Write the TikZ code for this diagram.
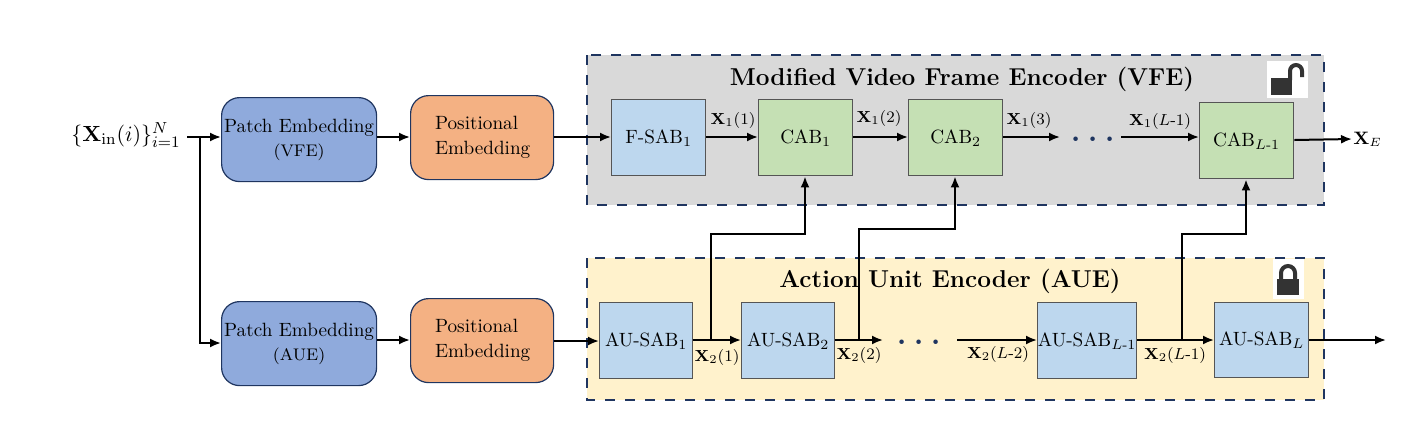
\documentclass[tikz,border=0pt]{standalone}
\usepackage{amsmath}
\usetikzlibrary{arrows.meta,calc}
\definecolor{navyd}{HTML}{1F3560}
\definecolor{panelg}{HTML}{D9D9D9}
\definecolor{panely}{HTML}{FFF2CC}
\definecolor{blueb}{HTML}{8FAADC}
\definecolor{orangeb}{HTML}{F4B183}
\definecolor{lightb}{HTML}{BDD7EE}
\definecolor{greenb}{HTML}{C5E0B4}
\definecolor{edgeg}{HTML}{555555}
\definecolor{lockc}{HTML}{333333}
\tikzset{
 panel/.style={draw=navyd,line width=1.4pt,dash pattern=on 5pt off 5pt},
 roundbox/.style={draw=navyd,line width=0.6pt,rounded corners=9pt,inner sep=0pt,align=center},
 sqbox/.style={draw=edgeg,line width=0.7pt,inner sep=0pt,align=center},
 conn/.style={line width=1pt,-{Latex[length=5.5pt,width=4.5pt]}},
 lbl/.style={font=\fontsize{8}{10}\selectfont,inner sep=0pt},
 dotsl/.style={font=\fontsize{14}{14}\selectfont,inner sep=0pt,text=navyd},
 shackle/.style={draw=lockc,line width=2pt},
}
\newcommand{\bx}[6]{\node[#1,fill=#2,minimum width=#5*0.5pt-#3*0.5pt,minimum height=#6*0.5pt-#4*0.5pt,anchor=north west]}
\newcommand{\threedots}{$\boldsymbol{\cdot}$\hspace{4pt}$\boldsymbol{\cdot}$\hspace{4pt}$\boldsymbol{\cdot}$}
\newcommand{\posemb}{\parbox{47pt}{\fontsize{9.6}{12}\selectfont Positional\\[0.4pt]Embedding}}
\begin{document}
\begin{tikzpicture}[x=0.5pt,y=-0.5pt]
\useasboundingbox (0,0) rectangle (1416,424);
% panels
\fill[panelg] (587,55) rectangle (1324,205);
\draw[panel] (587,55) rectangle (1324,205);
\fill[panely] (587,258) rectangle (1324,400);
\draw[panel] (587,258) rectangle (1324,400);
\node[font=\fontsize{12.2}{14}\selectfont\bfseries,inner sep=0pt] (t1) at (962,79) {Modified Video Frame Encoder (VFE)};
\node[font=\fontsize{12.2}{14}\selectfont\bfseries,inner sep=0pt] (t2) at (950,281) {Action Unit Encoder (AUE)};
% locks
\fill[white] (1267,61) rectangle (1308,98);
\draw[shackle] (1290,80) -- (1290,71) arc[start angle=180,end angle=360,x radius=6,y radius=6] -- (1302,77);
\fill[lockc] (1271,78) rectangle (1292,95);
\fill[white] (1273,259) rectangle (1304,299);
\draw[shackle] (1281,282) -- (1281,273) arc[start angle=180,end angle=360,x radius=7,y radius=7] -- (1295,282);
\fill[lockc] (1277,279) rectangle (1299,295);
% input
\node[font=\fontsize{11}{12}\selectfont,inner sep=0pt,anchor=east] (inp) at (181,135) {$\{\mathbf{X}_{\mathrm{in}}(i)\}_{i=1}^{N}$};
\coordinate (inpe) at (187,137);
\coordinate (split) at (200,137);
% round boxes
\bx{roundbox}{blueb}{221}{97}{376}{181} (pv) at (221,97) {\fontsize{9.6}{14}\selectfont Patch Embedding\\[0pt]\fontsize{8.4}{12}\selectfont (VFE)};
\bx{roundbox}{orangeb}{410}{95}{553}{179} (pev) at (410,95) {\posemb};
\bx{roundbox}{blueb}{221}{301}{376}{385} (pa) at (221,301) {\fontsize{9.6}{14}\selectfont Patch Embedding\\[0pt]\fontsize{8.4}{12}\selectfont (AUE)};
\bx{roundbox}{orangeb}{410}{298}{553}{382} (pea) at (410,298) {\posemb};
% square boxes
\bx{sqbox}{lightb}{611}{99}{705}{175} (fs) at (611,99) {\fontsize{9.6}{12}\selectfont F-SAB$_1$};
\bx{sqbox}{greenb}{758}{99}{852}{175} (c1) at (758,99) {\fontsize{9.6}{12}\selectfont CAB$_1$};
\bx{sqbox}{greenb}{908}{99}{1002}{175} (c2) at (908,99) {\fontsize{9.6}{12}\selectfont CAB$_2$};
\bx{sqbox}{greenb}{1199}{102}{1293}{178} (cl) at (1199,102) {\fontsize{9.6}{12}\selectfont CAB$_{L\text{-}1}$};
\bx{sqbox}{lightb}{599}{302}{692}{378} (a1) at (599,302) {\fontsize{9.6}{12}\selectfont AU-SAB$_1$};
\bx{sqbox}{lightb}{741}{302}{834}{378} (a2) at (741,302) {\fontsize{9.6}{12}\selectfont AU-SAB$_2$};
\bx{sqbox}{lightb}{1037}{302}{1136}{378} (al1) at (1037,302) {\fontsize{9.6}{12}\selectfont AU-SAB$_{L\text{-}1}$};
\bx{sqbox}{lightb}{1214}{302}{1308}{377} (al) at (1214,302) {\fontsize{9.6}{12}\selectfont AU-SAB$_{L}$};
% input connectors
\draw[conn] (inpe) -- (pv.west |- inpe);
\draw[conn] (split) -- (200,343) -- (pa.west |- 0,343);
\draw[conn] (pv.east |- 0,137) -- (pev.west |- 0,137);
\draw[conn] (pa.east |- 0,340) -- (pea.west |- 0,340);
\draw[conn] (pev.east |- 0,137) -- (fs.west |- 0,137);
\draw[conn] (pea.east |- 0,341) -- (a1.west |- 0,341);
% top chain
\draw[conn] (fs.east |- 0,137) -- (c1.west |- 0,137);
\draw[conn] (c1.east |- 0,137) -- (c2.west |- 0,137);
\coordinate (td1) at (1060,137);
\coordinate (td2) at (1121,137);
\draw[conn] (c2.east |- 0,137) -- (td1);
\node[dotsl] (tdots) at (1093,140) {\threedots};
\draw[conn] (td2) -- (cl.west |- td2);
\coordinate (xe) at (1352,139);
\draw[conn] (cl.east |- 0,140) -- (xe);
\node[font=\fontsize{9}{10}\selectfont,inner sep=0pt,anchor=west] (xel) at (1353,139) {$\mathbf{X}_E$};
% bottom chain
\draw[conn] (a1.east |- 0,340) -- (a2.west |- 0,340);
\coordinate (bd1) at (883,340);
\coordinate (bd2) at (957,340);
\draw[conn] (a2.east |- 0,340) -- (bd1);
\node[dotsl] (bdots) at (919,343) {\threedots};
\draw[conn] (bd2) -- (al1.west |- bd2);
\draw[conn] (al1.east |- 0,340) -- (al.west |- 0,340);
\coordinate (oute) at (1386,340);
\draw[conn] (al.east |- 0,340) -- (oute);
% cross connectors
\draw[conn] (711,340) -- (711,234) -- (805,234) -- (c1.south -| 805,0);
\draw[conn] (859,340) -- (859,229) -- (955,229) -- (c2.south -| 955,0);
\draw[conn] (1182,340) -- (1182,234) -- (1246,234) -- (cl.south -| 1246,0);
% labels
\node[lbl] (l1) at (733,120) {$\mathbf{X}_1(1)$};
\node[lbl] (l2) at (879,118) {$\mathbf{X}_1(2)$};
\node[lbl] (l3) at (1029,120) {$\mathbf{X}_1(3)$};
\node[lbl] (l4) at (1160,121) {$\mathbf{X}_1(L\text{-}1)$};
\node[lbl] (l5) at (717,357) {$\mathbf{X}_2(1)$};
\node[lbl] (l6) at (859,355) {$\mathbf{X}_2(2)$};
\node[lbl] (l7) at (998,354) {$\mathbf{X}_2(L\text{-}2)$};
\node[lbl] (l8) at (1175,355) {$\mathbf{X}_2(L\text{-}1)$};
\end{tikzpicture}
\end{document}
